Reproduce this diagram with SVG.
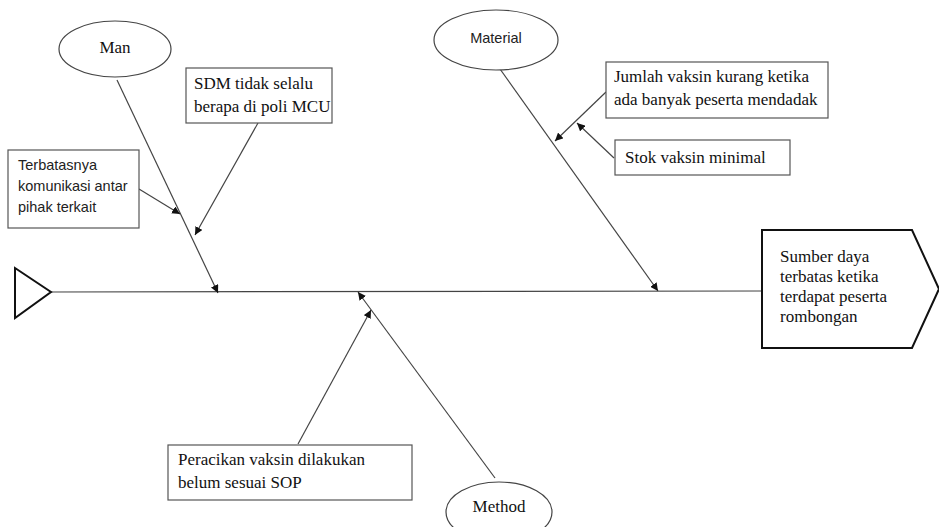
<svg xmlns="http://www.w3.org/2000/svg" width="939" height="527" viewBox="0 0 939 527">
<defs>
<marker id="ah" viewBox="0 0 10 10" refX="10" refY="5" markerWidth="8" markerHeight="8" markerUnits="userSpaceOnUse" orient="auto">
<path d="M0,0 L10,5 L0,10 z" fill="#111"/>
</marker>
<style>
.box{fill:#fff;stroke:#555;stroke-width:1.2}
.ell{fill:#fff;stroke:#444;stroke-width:1.2}
.ser{font-family:"Liberation Serif","Times New Roman",serif;font-size:17px;fill:#111}
.san{font-family:"Liberation Sans",Arial,sans-serif;font-size:14.5px;fill:#222}
.ln{stroke:#444;stroke-width:1.2;fill:none}
.ar{stroke:#444;stroke-width:1.2;fill:none;marker-end:url(#ah)}
</style>
</defs>
<rect width="939" height="527" fill="#fff"/>
<g id="connectors">
<line class="ln" x1="51" y1="292" x2="762" y2="291"/>
<line class="ar" x1="117" y1="80" x2="218" y2="293"/>
<line class="ar" x1="258" y1="123" x2="195" y2="235"/>
<line class="ar" x1="139" y1="189" x2="180" y2="214"/>
<line class="ar" x1="500" y1="69" x2="658" y2="291"/>
<line class="ar" x1="606" y1="92" x2="555" y2="141"/>
<line class="ar" x1="614" y1="158" x2="577" y2="123"/>
<line class="ar" x1="495" y1="478" x2="358" y2="292"/>
<line class="ar" x1="298" y1="444" x2="371" y2="310"/>
</g>
<g id="head">
<polygon points="15,268 51,292 15,318" fill="#fff" stroke="#111" stroke-width="2"/>
</g>
<g id="man">
<ellipse class="ell" cx="115" cy="49" rx="56" ry="28"/>
<text class="ser" x="115" y="53" text-anchor="middle">Man</text>
</g>
<g id="sdm">
<rect class="box" x="186" y="68" width="146" height="55"/>
<text class="ser" x="194" y="89">SDM tidak selalu</text>
<text class="ser" x="194" y="112">berapa di poli MCU</text>
</g>
<g id="terbatas">
<rect class="box" x="8" y="150" width="131" height="78"/>
<text class="san" x="18" y="170">Terbatasnya</text>
<text class="san" x="18" y="191">komunikasi antar</text>
<text class="san" x="18" y="212">pihak terkait</text>
</g>
<g id="material">
<ellipse class="ell" cx="496" cy="40" rx="62" ry="30"/>
<text class="san" x="496" y="43" text-anchor="middle">Material</text>
</g>
<g id="jumlah">
<rect class="box" x="606" y="62" width="222" height="56"/>
<text class="ser" x="614" y="82">Jumlah vaksin kurang ketika</text>
<text class="ser" x="614" y="105">ada banyak peserta mendadak</text>
</g>
<g id="stok">
<rect class="box" x="615" y="140" width="175" height="35"/>
<text class="ser" x="625" y="163">Stok vaksin minimal</text>
</g>
<g id="effect">
<polygon points="762,230 912,230 939,289 912,348 762,348" fill="#fff" stroke="#111" stroke-width="2"/>
<text class="ser" x="780" y="262">Sumber daya</text>
<text class="ser" x="780" y="282">terbatas ketika</text>
<text class="ser" x="780" y="302">terdapat peserta</text>
<text class="ser" x="780" y="322">rombongan</text>
</g>
<g id="peracikan">
<rect class="box" x="168" y="445" width="244" height="55"/>
<text class="ser" x="178" y="465">Peracikan vaksin dilakukan</text>
<text class="ser" x="178" y="488">belum sesuai SOP</text>
</g>
<g id="method">
<ellipse class="ell" cx="499" cy="512" rx="53" ry="30"/>
<text class="ser" x="499" y="512" text-anchor="middle">Method</text>
</g>
</svg>
